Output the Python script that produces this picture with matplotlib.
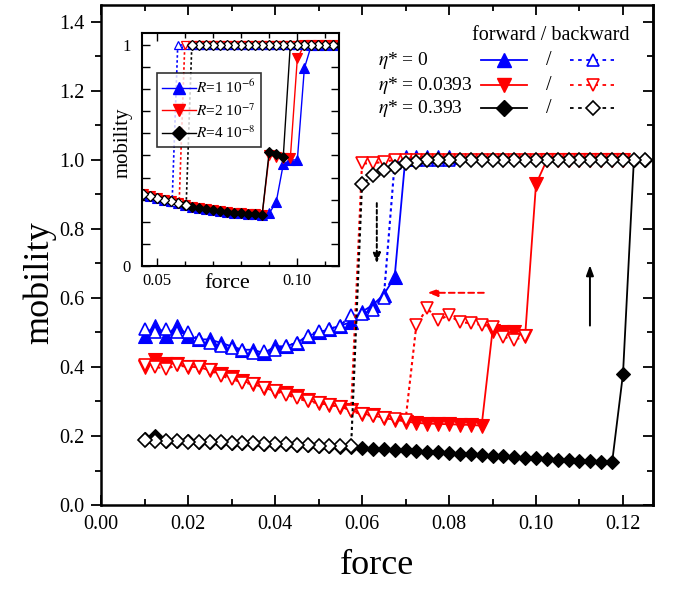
import matplotlib
matplotlib.use("Agg")
import matplotlib.pyplot as plt
from matplotlib.ticker import MultipleLocator, FixedLocator, FuncFormatter

plt.rcParams['font.family'] = ['Liberation Serif', 'DejaVu Serif']
plt.rcParams['mathtext.fontset'] = 'stix'

# ---------------- main plot data (force, mobility) ----------------
blue_fwd_x = [0.0100, 0.0125, 0.0150, 0.0175, 0.0200, 0.0225, 0.0250, 0.0275, 0.0300, 0.0325,
              0.0350, 0.0375, 0.0400, 0.0425, 0.0450, 0.0475, 0.0500, 0.0525, 0.0550, 0.0575,
              0.0600, 0.0625, 0.0650, 0.0675, 0.0700, 0.0725, 0.0750, 0.0775, 0.0800]
blue_fwd_y = [0.49, 0.52, 0.49, 0.52, 0.49, 0.48, 0.48, 0.47, 0.46, 0.45,
              0.45, 0.44, 0.46, 0.46, 0.47, 0.49, 0.50, 0.51, 0.52, 0.53,
              0.56, 0.58, 0.61, 0.66, 1.01, 1.01, 1.01, 1.01, 1.01]

blue_bwd_x = [0.0800, 0.0775, 0.0750, 0.0725, 0.0700, 0.0675, 0.0650, 0.0625, 0.0600, 0.0575,
              0.0550, 0.0525, 0.0500, 0.0475, 0.0450, 0.0425, 0.0400, 0.0375, 0.0350, 0.0325,
              0.0300, 0.0275, 0.0250, 0.0225, 0.0200, 0.0175, 0.0150, 0.0125, 0.0100]
blue_bwd_y = [1.00, 1.00, 1.00, 1.00, 1.00, 0.99, 0.60, 0.565, 0.555, 0.55,
              0.52, 0.51, 0.505, 0.49, 0.47, 0.46, 0.45, 0.445, 0.44, 0.45,
              0.455, 0.46, 0.47, 0.48, 0.50, 0.50, 0.51, 0.50, 0.51]

red_fwd_x = [0.0100, 0.0125, 0.0150, 0.0175, 0.0200, 0.0225, 0.0250, 0.0275, 0.0300, 0.0325,
             0.0350, 0.0375, 0.0400, 0.0425, 0.0450, 0.0475, 0.0500, 0.0525, 0.0550, 0.0575,
             0.0600, 0.0625, 0.0650, 0.0675, 0.0700, 0.0725, 0.0750, 0.0775, 0.0800, 0.0825,
             0.0850, 0.0875, 0.0900, 0.0925, 0.0950, 0.0975, 0.1000, 0.1025, 0.1050, 0.1075,
             0.1100, 0.1125, 0.1150, 0.1175, 0.1200]
red_fwd_y = [0.40, 0.42, 0.41, 0.41, 0.40, 0.40, 0.39, 0.38, 0.37, 0.36,
             0.35, 0.34, 0.33, 0.325, 0.315, 0.305, 0.295, 0.29, 0.285, 0.275,
             0.265, 0.26, 0.252, 0.247, 0.242, 0.238, 0.236, 0.235, 0.234, 0.233,
             0.232, 0.23, 0.505, 0.50, 0.50, 0.49, 0.93, 1.00, 1.00, 1.00,
             1.00, 1.00, 1.00, 1.00, 1.00]

# backward run started from the upper branch
red_bwd_x = [0.1200, 0.1175, 0.1150, 0.1125, 0.1100, 0.1075, 0.1050, 0.1025, 0.1000, 0.0975,
             0.0950, 0.0925, 0.0900, 0.0875, 0.0850, 0.0825, 0.0800, 0.0775, 0.0750, 0.0725,
             0.0700, 0.0675, 0.0650, 0.0625, 0.0600, 0.0575, 0.0550, 0.0525, 0.0500, 0.0475,
             0.0450, 0.0425, 0.0400, 0.0375, 0.0350, 0.0325, 0.0300, 0.0275, 0.0250, 0.0225,
             0.0200, 0.0175, 0.0150, 0.0125, 0.0100]
red_bwd_y = [1.00, 1.00, 1.00, 1.00, 1.00, 1.00, 1.00, 1.00, 1.00, 1.00,
             1.00, 1.00, 1.00, 1.00, 1.00, 1.00, 1.00, 1.00, 1.00, 1.00,
             1.00, 1.00, 0.995, 0.99, 0.99, 0.275, 0.285, 0.29, 0.295, 0.30,
             0.31, 0.32, 0.33, 0.34, 0.35, 0.355, 0.365, 0.375, 0.39, 0.40,
             0.40, 0.405, 0.395, 0.40, 0.405]

# backward run started from the intermediate branch
red_bwd2_x = [0.0975, 0.0950, 0.0925, 0.0900, 0.0875, 0.0850, 0.0825, 0.0800, 0.0775, 0.0750,
              0.0725, 0.0700, 0.0675, 0.0650, 0.0625, 0.0600, 0.0575]
red_bwd2_y = [0.49, 0.478, 0.488, 0.517, 0.522, 0.527, 0.53, 0.55, 0.536, 0.57,
              0.522, 0.245, 0.248, 0.253, 0.258, 0.263, 0.272]

black_fwd_x = [0.0100, 0.0125, 0.0150, 0.0175, 0.0200, 0.0225, 0.0250, 0.0275, 0.0300, 0.0325,
               0.0350, 0.0375, 0.0400, 0.0425, 0.0450, 0.0475, 0.0500, 0.0525, 0.0550, 0.0575,
               0.0600, 0.0625, 0.0650, 0.0675, 0.0700, 0.0725, 0.0750, 0.0775, 0.0800, 0.0825,
               0.0850, 0.0875, 0.0900, 0.0925, 0.0950, 0.0975, 0.1000, 0.1025, 0.1050, 0.1075,
               0.1100, 0.1125, 0.1150, 0.1175, 0.1200, 0.1225, 0.1250]
black_fwd_y = [0.19, 0.20, 0.185, 0.185, 0.185, 0.184, 0.183, 0.182, 0.181, 0.18,
               0.179, 0.178, 0.177, 0.176, 0.175, 0.174, 0.172, 0.17, 0.168, 0.167,
               0.165, 0.163, 0.161, 0.16, 0.158, 0.156, 0.155, 0.153, 0.151, 0.149,
               0.147, 0.145, 0.143, 0.141, 0.139, 0.137, 0.135, 0.133, 0.131, 0.13,
               0.128, 0.127, 0.126, 0.124, 0.38, 1.00, 1.00]

black_bwd_x = [0.1250, 0.1225, 0.1200, 0.1175, 0.1150, 0.1125, 0.1100, 0.1075, 0.1050, 0.1025,
               0.1000, 0.0975, 0.0950, 0.0925, 0.0900, 0.0875, 0.0850, 0.0825, 0.0800, 0.0775,
               0.0750, 0.0725, 0.0700, 0.0675, 0.0650, 0.0625, 0.0600, 0.0575, 0.0550, 0.0525,
               0.0500, 0.0475, 0.0450, 0.0425, 0.0400, 0.0375, 0.0350, 0.0325, 0.0300, 0.0275,
               0.0250, 0.0225, 0.0200, 0.0175, 0.0150, 0.0125, 0.0100]
black_bwd_y = [1.00, 1.00, 1.00, 1.00, 1.00, 1.00, 1.00, 1.00, 1.00, 1.00,
               1.00, 1.00, 1.00, 1.00, 1.00, 1.00, 1.00, 1.00, 1.00, 1.00,
               1.00, 0.995, 0.99, 0.98, 0.97, 0.955, 0.93, 0.17, 0.17, 0.171,
               0.172, 0.174, 0.175, 0.176, 0.177, 0.178, 0.179, 0.18, 0.181, 0.182,
               0.183, 0.184, 0.184, 0.185, 0.185, 0.186, 0.187]

# ---------------- inset data (different R) ----------------
in_blue_fwd_x = [0.0450, 0.0475, 0.0500, 0.0525, 0.0550, 0.0575, 0.0600, 0.0625, 0.0650, 0.0675,
                 0.0700, 0.0725, 0.0750, 0.0775, 0.0800, 0.0825, 0.0850, 0.0875, 0.0900, 0.0925,
                 0.0950, 0.0975, 0.1000, 0.1025, 0.1050, 0.1075, 0.1100, 0.1125]
in_blue_fwd_y = [0.325, 0.316, 0.308, 0.300, 0.293, 0.286, 0.274, 0.268, 0.262, 0.257,
                 0.252, 0.248, 0.245, 0.241, 0.238, 0.236, 0.234, 0.232, 0.238, 0.29,
                 0.46, 0.48, 0.48, 0.895, 1.00, 1.00, 1.00, 1.00]

in_red_fwd_x = [0.0450, 0.0475, 0.0500, 0.0525, 0.0550, 0.0575, 0.0600, 0.0625, 0.0650, 0.0675,
                0.0700, 0.0725, 0.0750, 0.0775, 0.0800, 0.0825, 0.0850, 0.0875, 0.0900, 0.0925,
                0.0950, 0.0975, 0.1000, 0.1025, 0.1050, 0.1075, 0.1100, 0.1125]
in_red_fwd_y = [0.325, 0.316, 0.308, 0.300, 0.293, 0.286, 0.274, 0.268, 0.262, 0.257,
                0.252, 0.248, 0.245, 0.241, 0.238, 0.236, 0.234, 0.232, 0.50, 0.495,
                0.49, 0.487, 0.94, 1.00, 1.00, 1.00, 1.00, 1.00]

in_black_fwd_x = [0.0450, 0.0475, 0.0500, 0.0525, 0.0550, 0.0575, 0.0600, 0.0625, 0.0650, 0.0675,
                  0.0700, 0.0725, 0.0750, 0.0775, 0.0800, 0.0825, 0.0850, 0.0875, 0.0900, 0.0925,
                  0.0950, 0.0975, 0.1000, 0.1025, 0.1050, 0.1075, 0.1100, 0.1125, 0.1150]
in_black_fwd_y = [0.325, 0.316, 0.308, 0.300, 0.293, 0.286, 0.274, 0.268, 0.262, 0.257,
                  0.252, 0.248, 0.245, 0.241, 0.238, 0.236, 0.234, 0.232, 0.517, 0.505,
                  0.495, 1.00, 1.00, 1.00, 1.00, 1.00, 1.00, 1.00, 1.00]

in_blue_bwd_x = [0.1125, 0.1100, 0.1075, 0.1050, 0.1025, 0.1000, 0.0975, 0.0950, 0.0925, 0.0900,
                 0.0875, 0.0850, 0.0825, 0.0800, 0.0775, 0.0750, 0.0725, 0.0700, 0.0675, 0.0650,
                 0.0625, 0.0600, 0.0575, 0.0555, 0.0525, 0.0500, 0.0475, 0.0450]
in_blue_bwd_y = [1.00, 1.00, 1.00, 1.00, 1.00, 1.00, 1.00, 1.00, 1.00, 1.00,
                 1.00, 1.00, 1.00, 1.00, 1.00, 1.00, 1.00, 1.00, 1.00, 1.00,
                 1.00, 1.00, 1.00, 0.29, 0.300, 0.308, 0.316, 0.325]

in_red_bwd_x = [0.1125, 0.1100, 0.1075, 0.1050, 0.1025, 0.1000, 0.0975, 0.0950, 0.0925, 0.0900,
                0.0875, 0.0850, 0.0825, 0.0800, 0.0775, 0.0750, 0.0725, 0.0700, 0.0675, 0.0650,
                0.0625, 0.0600, 0.0580, 0.0550, 0.0525, 0.0500, 0.0475, 0.0450]
in_red_bwd_y = [1.00, 1.00, 1.00, 1.00, 1.00, 1.00, 1.00, 1.00, 1.00, 1.00,
                1.00, 1.00, 1.00, 1.00, 1.00, 1.00, 1.00, 1.00, 1.00, 1.00,
                1.00, 1.00, 0.285, 0.293, 0.300, 0.308, 0.316, 0.325]

in_black_bwd_x = [0.1150, 0.1125, 0.1100, 0.1075, 0.1050, 0.1025, 0.1000, 0.0975, 0.0950, 0.0925,
                  0.0900, 0.0875, 0.0850, 0.0825, 0.0800, 0.0775, 0.0750, 0.0725, 0.0700, 0.0675,
                  0.0650, 0.0625, 0.0605, 0.0575, 0.0550, 0.0525, 0.0500, 0.0475, 0.0450]
in_black_bwd_y = [1.00, 1.00, 1.00, 1.00, 1.00, 1.00, 1.00, 1.00, 1.00, 1.00,
                  1.00, 1.00, 1.00, 1.00, 1.00, 1.00, 1.00, 1.00, 1.00, 1.00,
                  1.00, 1.00, 0.278, 0.286, 0.293, 0.300, 0.308, 0.316, 0.325]

eta_labels = [r'$\eta$* = 0', r'$\eta$* = 0.0393', r'$\eta$* = 0.393']
R_labels = [r'$R$=1 10$^{-6}$', r'$R$=2 10$^{-7}$', r'$R$=4 10$^{-8}$']
colors = ['#0000ff', '#ff0000', '#000000']
markers = ['^', 'v', 'D']

# arrows: (start, end, color, linestyle)
arrows = [((0.0634, 0.875), (0.0634, 0.700), 'black', (0, (2, 1.5))),
          ((0.0880, 0.615), (0.0750, 0.615), 'red', (0, (3, 2))),
          ((0.1124, 0.520), (0.1124, 0.695), 'black', '-')]

BLUE, RED, BLACK = colors

fig = plt.figure(figsize=(6.73, 5.91), dpi=100)
ax = fig.add_axes([0.1501, 0.1455, 0.8202, 0.846])


def msize(m, big):
    if m == 'D':
        return 7.5 if big else 5.2
    return 9.5 if big else 6.8


def fwd(a, x, y, c, m, big=True):
    a.plot(x, y, ls='-', lw=1.3 if big else 1.0, color=c, marker=m,
           ms=msize(m, big), mfc=c, mec=c, mew=0.8)


def bwd(a, x, y, c, m, big=True):
    a.plot(x, y, ls=(0, (1.5, 1.5)), lw=1.5 if big else 1.2, color=c, marker=m,
           ms=msize(m, big) * 0.95, mfc='white', mec=c, mew=1.2 if big else 0.9)


fwd(ax, blue_fwd_x, blue_fwd_y, BLUE, '^')
fwd(ax, red_fwd_x, red_fwd_y, RED, 'v')
fwd(ax, black_fwd_x, black_fwd_y, BLACK, 'D')
bwd(ax, blue_bwd_x, blue_bwd_y, BLUE, '^')
bwd(ax, red_bwd_x, red_bwd_y, RED, 'v')
bwd(ax, red_bwd2_x, red_bwd2_y, RED, 'v')
bwd(ax, black_bwd_x, black_bwd_y, BLACK, 'D')

for start, end, c, ls in arrows:
    ax.annotate('', xy=end, xytext=start,
                arrowprops=dict(arrowstyle='-|>,head_length=0.6,head_width=0.22',
                                color=c, lw=1.4, ls=ls, shrinkA=0, shrinkB=0))

ax.set_xlim(0, 0.1269)
ax.set_ylim(0, 1.449)
ax.xaxis.set_major_locator(MultipleLocator(0.02))
ax.xaxis.set_minor_locator(MultipleLocator(0.01))
ax.yaxis.set_major_locator(MultipleLocator(0.2))
ax.yaxis.set_minor_locator(MultipleLocator(0.1))
ax.xaxis.set_major_formatter(FuncFormatter(lambda v, p: f'{v:.2f}'))
ax.yaxis.set_major_formatter(FuncFormatter(lambda v, p: f'{v:.1f}'))
ax.tick_params(axis='x', which='both', direction='in', top=True, labelsize=14.5, pad=7)
ax.tick_params(axis='y', which='both', direction='out', labelsize=14.5, pad=5)
ax.tick_params(which='major', length=7, width=1.3)
ax.tick_params(which='minor', length=4, width=1.3)
for s in ax.spines.values():
    s.set_linewidth(1.8)

sec = ax.secondary_yaxis('right')
sec.yaxis.set_major_locator(MultipleLocator(0.2))
sec.yaxis.set_minor_locator(MultipleLocator(0.1))
sec.tick_params(which='both', direction='in', labelright=False, width=1.3)
sec.tick_params(which='major', length=7)
sec.tick_params(which='minor', length=4)
sec.spines['right'].set_linewidth(1.8)

ax.set_xlabel('force', fontsize=26)
ax.xaxis.set_label_coords(0.5, -0.088)
ax.set_ylabel('mobility', fontsize=26)
ax.yaxis.set_label_coords(-0.082, 0.445)

# custom legend: forward / backward
ax.text(0.815, 0.94, 'forward / backward', transform=ax.transAxes, fontsize=14.5,
        ha='center', va='center')
rows_y = [0.89, 0.84, 0.794]
for lab, c, m, yy in zip(eta_labels, colors, markers, rows_y):
    ax.text(0.502, yy, lab, transform=ax.transAxes, fontsize=14, ha='left', va='center')
    ax.plot([0.689, 0.772], [yy, yy], transform=ax.transAxes, color=c, lw=1.3, clip_on=False)
    ax.plot([0.7305], [yy], transform=ax.transAxes, marker=m, color=c,
            ms=msize(m, True) * 1.1, clip_on=False)
    ax.text(0.812, yy, '/', transform=ax.transAxes, fontsize=14.5, ha='center', va='center')
    ax.plot([0.85, 0.93], [yy, yy], transform=ax.transAxes, color=c, lw=1.3,
            ls=(0, (2, 2.5)), clip_on=False)
    ax.plot([0.891], [yy], transform=ax.transAxes, marker=m, color=c, mfc='white',
            mec=c, mew=1.2, ms=msize(m, True) * 0.95, clip_on=False)

# ---------------- inset ----------------
ins = fig.add_axes([0.211, 0.5499, 0.2927, 0.3942])
ins.set_zorder(5)
fwd(ins, in_blue_fwd_x, in_blue_fwd_y, BLUE, '^', big=False)
fwd(ins, in_red_fwd_x, in_red_fwd_y, RED, 'v', big=False)
fwd(ins, in_black_fwd_x, in_black_fwd_y, BLACK, 'D', big=False)
bwd(ins, in_blue_bwd_x, in_blue_bwd_y, BLUE, '^', big=False)
bwd(ins, in_red_bwd_x, in_red_bwd_y, RED, 'v', big=False)
bwd(ins, in_black_bwd_x, in_black_bwd_y, BLACK, 'D', big=False)

ins.set_xlim(0.0448, 0.1148)
ins.set_ylim(0, 1.054)
ins.xaxis.set_major_locator(MultipleLocator(0.05))
ins.xaxis.set_minor_locator(MultipleLocator(0.01))
ins.yaxis.set_major_locator(FixedLocator([0, 1]))
ins.yaxis.set_minor_locator(MultipleLocator(0.1))
ins.xaxis.set_major_formatter(FuncFormatter(lambda v, p: f'{v:.2f}'))
ins.yaxis.set_major_formatter(FuncFormatter(lambda v, p: f'{v:.0f}'))
ins.tick_params(which='both', direction='in', top=True, right=True, labelsize=12, width=1.0)
ins.tick_params(axis='x', which='major', length=6, pad=5)
ins.tick_params(axis='x', which='minor', length=3.5)
ins.tick_params(axis='y', which='both', length=6, pad=8)
for s in ins.spines.values():
    s.set_linewidth(1.5)

ins.set_xlabel('force', fontsize=16)
ins.xaxis.set_label_coords(0.43, -0.035)
ins.set_ylabel('mobility', fontsize=15)
ins.yaxis.set_label_coords(-0.05, 0.53)

leg_handles = []
for lab, c, m in zip(R_labels, colors, markers):
    h, = ins.plot([], [], color=c, marker=m, ls='-', lw=1.0, ms=msize(m, False) * 1.3)
    leg_handles.append(h)
leg = ins.legend(leg_handles, R_labels, loc='upper left', bbox_to_anchor=(0.076, 0.828),
                 borderaxespad=0, fontsize=11, frameon=True, fancybox=False,
                 edgecolor='black', handlelength=2.2, handletextpad=0.0,
                 borderpad=0.35, labelspacing=0.4)
leg.get_frame().set_linewidth(1.2)

fig.savefig('out.png', dpi=100)
